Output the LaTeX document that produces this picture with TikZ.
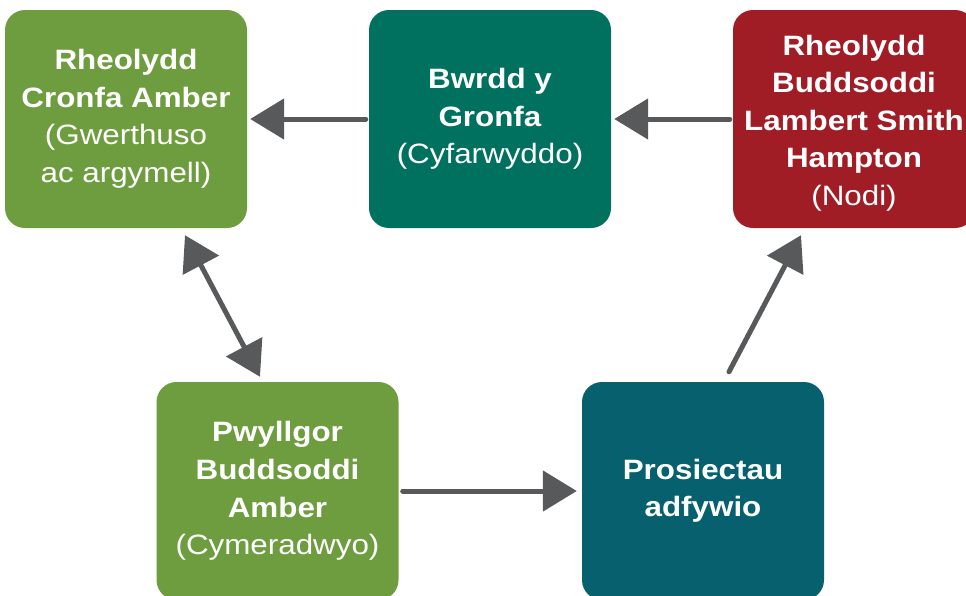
\documentclass[tikz,border=0pt]{standalone}
\usepackage{fontspec}
\setmainfont{Liberation Sans}[FakeStretch=1.12]
\usetikzlibrary{arrows.meta,calc}
\definecolor{cgreen}{HTML}{6E9D3F}
\definecolor{cteal}{HTML}{00705F}
\definecolor{cred}{HTML}{A11D25}
\definecolor{cdteal}{HTML}{06606E}
\definecolor{cgray}{HTML}{58595B}
\begin{document}
\begin{tikzpicture}[x=1pt,y=-1pt,
  box/.style={rounded corners=20pt, minimum width=242pt, minimum height=218pt,
    text=white, align=center, inner sep=0pt,
    font=\fontsize{28}{37.5}\selectfont},
  boxtext/.style={text=white, align=center, inner sep=0pt,
    font=\fontsize{28}{37.5}\selectfont},
  arr/.style={draw=cgray, line width=5pt, line cap=round,
    -{Triangle[length=34pt,width=40pt]}},
  darr/.style={draw=cgray, line width=5pt,
    {Triangle[length=34pt,width=40pt]}-{Triangle[length=34pt,width=40pt]}}]
\useasboundingbox (0,0) rectangle (966,595);
\node[box, fill=cgreen] (b1) at (126,119) {\textbf{Rheolydd}\\\textbf{Cronfa Amber}\\(Gwerthuso\\ac argymell)};
\node[box, fill=cteal] (b2) at (490,119) {\textbf{Bwrdd y}\\\textbf{Gronfa}\\(Cyfarwyddo)};
\node[box, fill=cred] (b3) at (854,119) {};
\node[boxtext] (t3) at ($(b3)+(0,4)$) {\textbf{Rheolydd}\\\textbf{Buddsoddi}\\\textbf{Lambert Smith}\\\textbf{Hampton}\\(Nodi)};
\node[box, fill=cgreen] (b4) at (277.5,491) {\textbf{Pwyllgor}\\\textbf{Buddsoddi}\\\textbf{Amber}\\(Cymeradwyo)};
\node[box, fill=cdteal] (b5) at (703,491) {\textbf{Prosiectau}\\\textbf{adfywio}};
\draw[arr, shorten <=3pt, shorten >=3pt] (b2.west) -- (b1.east);
\draw[arr, shorten <=3pt, shorten >=3pt] (b3.west) -- (b2.east);
\draw[arr, shorten <=4pt, shorten >=5pt] (b4.east) -- (b5.west);
\coordinate (c1) at ($(b1.south)+(59,7)$);
\coordinate (c4) at ($(b4.north)+(-17.5,-5)$);
\draw[darr] (c1) -- (c4);
\coordinate (e5) at ($(b5.north)+(26,-10)$);
\coordinate (e3) at ($(b3.south)+(-53,7)$);
\draw[arr] (e5) -- (e3);
\end{tikzpicture}
\end{document}
